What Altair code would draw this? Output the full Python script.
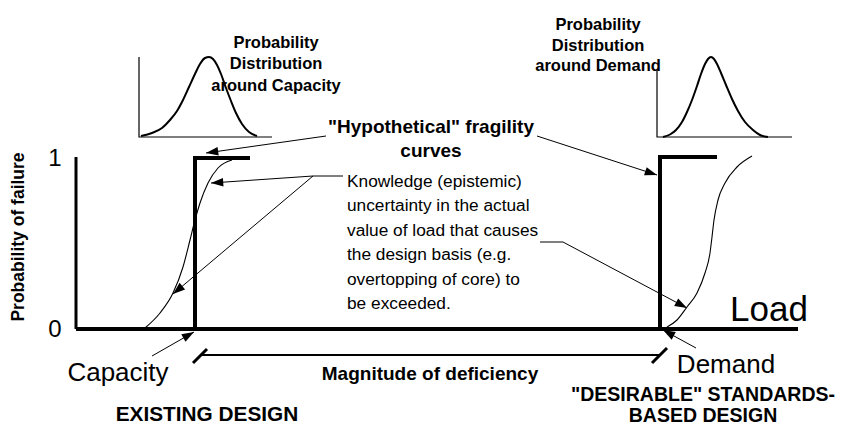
import math
import altair as alt
import pandas as pd

FONT = "Liberation Sans"
W, H = 829, 419

# ---------------- diagram geometry (reference-pixel units) ----------------
AXIS_PROB_X = [76, 76]
AXIS_PROB_Y = [157, 329]
AXIS_LOAD_X = [76, 798]
AXIS_LOAD_Y = [329, 329]

STEP_CAP_X = [195, 195, 250]
STEP_CAP_Y = [329, 158, 158]
STEP_DEM_X = [660, 660, 717]
STEP_DEM_Y = [329, 157, 157]

S_CAP_X = [145, 160, 173, 183, 190, 195, 200, 208, 218, 232]
S_CAP_Y = [328, 313, 293, 267, 240, 220, 203, 183, 168, 160]
S_DEM_X = [667, 677, 687, 697, 705, 710, 712, 714, 718, 725, 737, 752]
S_DEM_Y = [327, 320, 307, 293, 273, 253, 237, 220, 200, 183, 167, 156]

PDF_CAP_X = [141, 152, 162, 170, 177, 183, 189, 195, 200, 205, 209, 213, 217, 221, 226, 231, 236, 242, 249, 257]
PDF_CAP_Y = [136, 133, 128, 120, 111, 100, 87, 74, 64, 58, 57, 59, 65, 74, 88, 101, 113, 124, 132, 136]
PDF_DEM_X = [663, 670, 676, 682, 687, 692, 697, 701, 705, 708, 711, 714, 717, 721, 726, 732, 738, 745, 753, 760, 768]
PDF_DEM_Y = [137, 134.5, 130, 122, 112, 100, 86, 74, 64, 59, 57, 59, 64, 73, 85, 99, 111, 122, 130, 135, 137]

PDF_CAP_AX_X = [139, 139, 272]
PDF_CAP_AX_Y = [57, 137, 137]
PDF_DEM_AX_X = [657, 657, 792]
PDF_DEM_AX_Y = [70, 137, 137]

# leader lines (last point = arrow tip)
LEADERS = {
    "hypo_l": ([326, 206], [136, 153]),
    "hypo_r": ([537, 657], [136, 175]),
    "know_a": ([343, 313, 211], [176, 176, 183]),
    "know_b": ([313, 173], [176, 294]),
    "cause": ([540, 563, 687], [242, 242, 308]),
    "cap": ([152, 194], [356, 332]),
    "dem": ([696, 663], [348, 330]),
}

MAG_X = [201, 660]
MAG_Y = [355, 355]
TICK_L_X = [193, 207]
TICK_L_Y = [363, 349]
TICK_R_X = [652, 667]
TICK_R_Y = [363, 348]

# ---------------- texts ----------------
TEXTS = [
    # text, x, y(baseline), size, weight, align, angle
    ("Probability", 276, 48, 16.5, "bold", "center", 0),
    ("Distribution", 276, 69, 16.5, "bold", "center", 0),
    ("around Capacity", 276, 90.5, 16.5, "bold", "center", 0),
    ("Probability", 598, 30, 16.5, "bold", "center", 0),
    ("Distribution", 598, 51, 16.5, "bold", "center", 0),
    ("around Demand", 598, 71, 16.5, "bold", "center", 0),
    ('"Hypothetical" fragility', 431, 133, 19, "bold", "center", 0),
    ("curves", 431, 157, 19, "bold", "center", 0),
    ("Knowledge (epistemic)", 347, 187, 17.3, "normal", "left", 0),
    ("uncertainty in the actual", 347, 211, 17.3, "normal", "left", 0),
    ("value of load  that causes", 347, 235.5, 17.3, "normal", "left", 0),
    ("the design basis (e.g.", 347, 260, 17.3, "normal", "left", 0),
    ("overtopping of core) to", 347, 284.5, 17.3, "normal", "left", 0),
    ("be exceeded.", 347, 309, 17.3, "normal", "left", 0),
    ("Load", 730, 321, 35, "normal", "left", 0),
    ("1", 55, 166, 24, "normal", "center", 0),
    ("0", 55, 337, 24, "normal", "center", 0),
    ("Probability of failure", 24, 237, 17.5, "bold", "center", 270),
    ("Capacity", 118, 381, 26, "normal", "center", 0),
    ("Demand", 726, 373, 26, "normal", "center", 0),
    ("Magnitude of deficiency", 430, 380, 19, "bold", "center", 0),
    ("EXISTING DESIGN", 207, 421, 20.8, "bold", "center", 0),
    ('"DESIRABLE" STANDARDS-', 703, 401, 19.5, "bold", "center", 0),
    ("BASED DESIGN", 703, 422, 19.5, "bold", "center", 0),
]

XS = alt.Scale(domain=[8, 8 + W], nice=False, zero=False)
YS = alt.Scale(domain=[8, 8 + H], nice=False, zero=False, reverse=True)


def seg_df(segs):
    rows = []
    for name, xs, ys in segs:
        for i, (x, y) in enumerate(zip(xs, ys)):
            rows.append({"seg": name, "ord": i, "x": x, "y": y})
    return pd.DataFrame(rows)


def line_layer(segs, width, interpolate="linear"):
    return alt.Chart(seg_df(segs)).mark_line(
        color="black", strokeWidth=width, interpolate=interpolate
    ).encode(
        x=alt.X("x:Q", scale=XS, axis=None),
        y=alt.Y("y:Q", scale=YS, axis=None),
        detail="seg:N",
        order="ord:Q",
    )


thick = line_layer([
    ("load", AXIS_LOAD_X, AXIS_LOAD_Y),
    ("stepc", STEP_CAP_X, STEP_CAP_Y),
    ("stepd", STEP_DEM_X, STEP_DEM_Y),
], 4)
prob_axis = line_layer([("prob", AXIS_PROB_X, AXIS_PROB_Y)], 3)
scurves = line_layer([("sc", S_CAP_X, S_CAP_Y), ("sd", S_DEM_X, S_DEM_Y)], 1.1, "monotone")
pdfs = line_layer([("pc", PDF_CAP_X, PDF_CAP_Y), ("pd", PDF_DEM_X, PDF_DEM_Y)], 2, "monotone")
pdf_axes = line_layer([("pca", PDF_CAP_AX_X, PDF_CAP_AX_Y), ("pda", PDF_DEM_AX_X, PDF_DEM_AX_Y)], 1.2)
leaders = line_layer([(k, v[0], v[1]) for k, v in LEADERS.items()], 1)
mag = line_layer([("mag", MAG_X, MAG_Y)], 2)
ticks = line_layer([("tl", TICK_L_X, TICK_L_Y), ("tr", TICK_R_X, TICK_R_Y)], 3)

# arrowheads at leader tips, oriented along the last segment
heads = []
for k, (xs, ys) in LEADERS.items():
    dx, dy = xs[-1] - xs[-2], ys[-1] - ys[-2]
    ang = (math.degrees(math.atan2(dy, dx)) + 360) % 360
    heads.append({"x": xs[-1], "y": ys[-1], "angle": ang})
heads_layer = alt.Chart(pd.DataFrame(heads)).mark_point(
    shape="M0,0L-2,-0.7L-2,0.7Z", filled=True, opacity=1, color="black",
    size=150, strokeWidth=0
).encode(
    x=alt.X("x:Q", scale=XS, axis=None),
    y=alt.Y("y:Q", scale=YS, axis=None),
    angle=alt.Angle("angle:Q", scale=None),
)

tdf = pd.DataFrame(TEXTS, columns=["text", "x", "y", "fs", "weight", "align", "angle"])
text_layers = []
for (wt, al), sub in tdf.groupby(["weight", "align"]):
    text_layers.append(
        alt.Chart(sub).mark_text(
            font=FONT, fontWeight=wt, align=al, baseline="alphabetic", color="black"
        ).encode(
            x=alt.X("x:Q", scale=XS, axis=None),
            y=alt.Y("y:Q", scale=YS, axis=None),
            text="text:N",
            size=alt.Size("fs:Q", scale=None),
            angle=alt.Angle("angle:Q", scale=None),
        )
    )

chart = alt.layer(
    pdf_axes, pdfs, scurves, leaders, heads_layer, mag, ticks, prob_axis, thick, *text_layers
).properties(
    width=W, height=H, padding=0, autosize=alt.AutoSizeParams(type="none"),
    background="white",
).configure_view(stroke=None)

chart.save("out.html", embed_options={"renderer": "svg", "actions": False})
